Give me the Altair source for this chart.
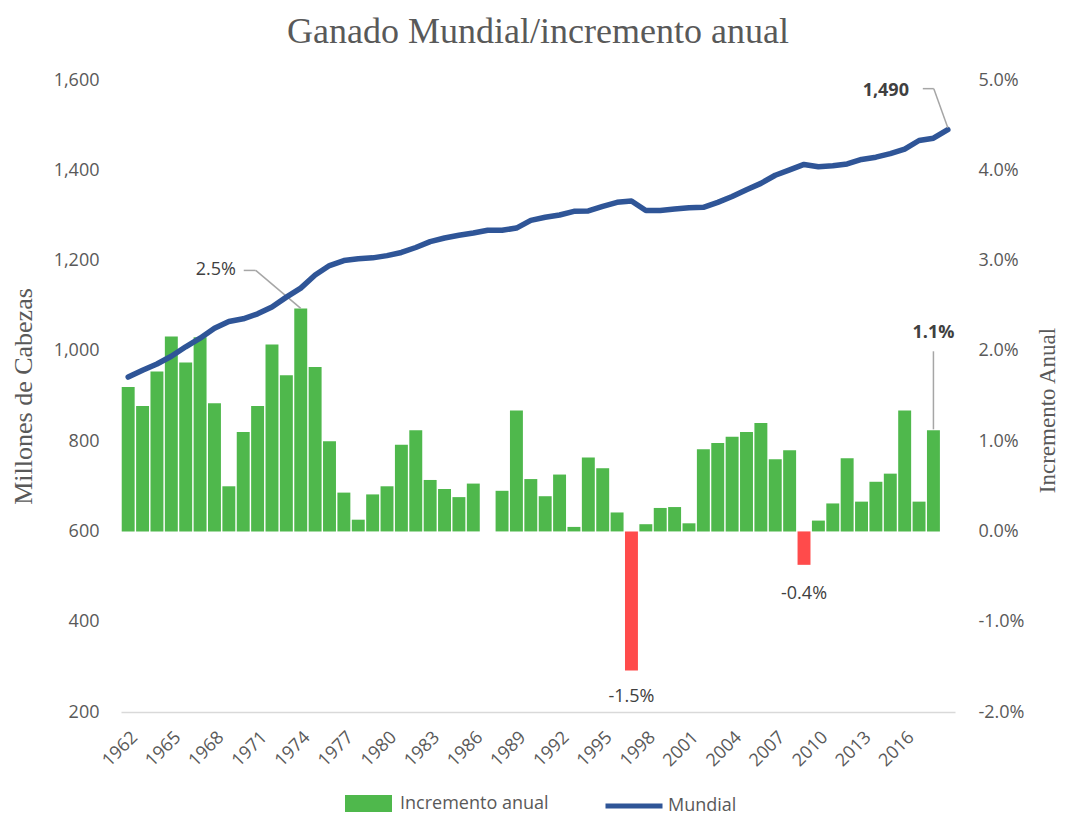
import altair as alt
import pandas as pd

# ---------------- data ----------------
years = list(range(1962, 2020))
mundial = [942, 957, 971, 988, 1009, 1028, 1050, 1065, 1071, 1082,
           1097, 1119, 1139, 1168, 1189, 1200, 1204, 1206, 1211, 1218,
           1229, 1242, 1250, 1256, 1261, 1267, 1267, 1272, 1289, 1296,
           1301, 1309, 1310, 1320, 1329, 1332, 1311, 1311, 1314, 1317,
           1318, 1329, 1342, 1357, 1371, 1389, 1401, 1413, 1408, 1410,
           1414, 1424, 1429, 1437, 1447, 1466, 1471, 1490]
# annual increment in percent (last year has no bar)
incremento = [1.60, 1.39, 1.77, 2.16, 1.87, 2.15, 1.42, 0.50, 1.10, 1.39,
              2.07, 1.73, 2.47, 1.82, 1.00, 0.43, 0.13, 0.41, 0.50, 0.96,
              1.12, 0.57, 0.47, 0.38, 0.53, 0.00, 0.45, 1.34, 0.58, 0.39,
              0.63, 0.05, 0.82, 0.70, 0.21, -1.54, 0.08, 0.26, 0.27, 0.09,
              0.91, 0.98, 1.05, 1.10, 1.20, 0.80, 0.90, -0.37, 0.12, 0.31,
              0.81, 0.33, 0.55, 0.64, 1.34, 0.33, 1.12, None]
tick_years = list(range(1962, 2017, 3))

df = pd.DataFrame({
    "year": years,
    "mundial": mundial,
    "inc": [None if v is None else v / 100 for v in incremento],
})

# ---------------- styles ----------------
GRAY = "#595959"
DARK = "#404040"
LEAD = "#A6A6A6"
GREEN = "#4FB84C"
RED = "#FF4B4B"
BLUE = "#2F5597"
SANS = "Open Sans"
SERIF = "Liberation Serif"

xscale = alt.Scale(domain=[1961.5, 2019.5], nice=False, zero=False)
xaxis = alt.Axis(values=tick_years, format="d", title=None, grid=False,
                 ticks=False, domainColor="#D9D9D9", domainWidth=1.5,
                 labelAngle=-45, labelAlign="right", labelBaseline="top",
                 labelPadding=16, labelFont=SANS, labelFontSize=18,
                 labelColor=GRAY, labelOverlap=False)

yl_scale = alt.Scale(domain=[200, 1600], nice=False, zero=False)
yl_axis = alt.Axis(orient="left", values=list(range(200, 1601, 200)),
                   labelExpr="format(datum.value, ',')",
                   grid=False, ticks=False, domain=False,
                   labelPadding=22, labelFont=SANS, labelFontSize=18,
                   labelColor=GRAY, title="Millones de Cabezas",
                   titleFont=SERIF, titleFontSize=26, titleFontWeight="normal",
                   titleColor=GRAY, titleAngle=-90, titleX=-98, titleY=316,
                   titleAlign="center", titleBaseline="middle")

yr_scale = alt.Scale(domain=[-0.02, 0.05], nice=False, zero=False)
yr_axis = alt.Axis(orient="right", values=[-0.02, -0.01, 0, 0.01, 0.02, 0.03, 0.04, 0.05],
                   labelExpr="replace(format(datum.value, '.1%'), '\u2212', '-')",
                   grid=False, ticks=False, domain=False,
                   labelPadding=23, labelFont=SANS, labelFontSize=18,
                   labelColor=GRAY, title="Incremento Anual",
                   titleFont=SERIF, titleFontSize=23, titleFontWeight="normal",
                   titleColor=GRAY, titleAngle=-90, titleX=92, titleY=330,
                   titleAlign="center", titleBaseline="middle")

base = alt.Chart(df)

# ---------------- bars (right axis) ----------------
bars = base.transform_filter("isValid(datum.inc)").transform_calculate(
    x0="datum.year - 0.45", x1="datum.year + 0.45", zero="0",
    serie="'Incremento anual'"
).mark_bar().encode(
    x=alt.X("x0:Q", scale=xscale, axis=xaxis),
    x2="x1:Q",
    y=alt.Y("inc:Q", scale=yr_scale, axis=yr_axis),
    y2="zero:Q",
    fill=alt.condition(
        "datum.inc < 0", alt.value(RED),
        alt.Fill("serie:N",
                 scale=alt.Scale(domain=["Incremento anual"], range=[GREEN]),
                 legend=alt.Legend(orient="none", legendX=224, legendY=700,
                                   title=None, padding=0,
                                   symbolType="M-1,-0.36H1V0.36H-1Z",
                                   symbolSize=2209, symbolStrokeWidth=0,
                                   symbolOpacity=1,
                                   labelFont=SANS, labelFontSize=18,
                                   labelColor=GRAY, labelOffset=8)),
    ),
)


def bar_text(year, dx, dy, bold=False):
    return base.transform_filter(f"datum.year == {year}").transform_calculate(
        lab="replace(format(datum.inc, '.1%'), '\u2212', '-')"
    ).mark_text(dx=dx, dy=dy, font=SANS, fontSize=18, color=DARK,
                fontWeight="bold" if bold else "normal").encode(
        x=alt.X("year:Q", scale=xscale, axis=xaxis),
        y=alt.Y("inc:Q", scale=yr_scale, axis=yr_axis),
        text="lab:N",
    )


def bar_rule(year, xo, yo, x2o, y2o):
    return base.transform_filter(f"datum.year == {year}").mark_rule(
        color=LEAD, strokeWidth=1.5, xOffset=xo, yOffset=yo,
        x2Offset=x2o, y2Offset=y2o).encode(
        x=alt.X("year:Q", scale=xscale, axis=xaxis),
        x2="year:Q",
        y=alt.Y("inc:Q", scale=yr_scale, axis=yr_axis),
        y2="inc:Q",
    )


right_group = alt.layer(
    bars,
    bar_rule(1974, 0, 0, -45, -38),
    bar_rule(1974, -45, -38, -57, -38),
    bar_rule(2018, 0, -1, 0, -79),
    bar_text(1974, -85, -38),
    bar_text(1997, 0, 27),
    bar_text(2009, 0, 29),
    bar_text(2018, 0, -97, bold=True),
)

# ---------------- line (left axis) ----------------
line = base.transform_calculate(serie2="'Mundial'").mark_line(
    strokeWidth=5.5, strokeCap="round", strokeJoin="round").encode(
    x=alt.X("year:Q", scale=xscale, axis=xaxis),
    y=alt.Y("mundial:Q", scale=yl_scale, axis=yl_axis),
    stroke=alt.Stroke("serie2:N",
                      scale=alt.Scale(domain=["Mundial"], range=[BLUE]),
                      legend=alt.Legend(orient="none", legendX=482, legendY=695,
                                        title=None, padding=0,
                                        symbolType="stroke", symbolSize=3249,
                                        symbolStrokeWidth=5,
                                        labelFont=SANS, labelFontSize=18,
                                        labelColor=GRAY, labelOffset=3)),
)


def line_rule(year, xo, yo, x2o, y2o):
    return base.transform_filter(f"datum.year == {year}").mark_rule(
        color=LEAD, strokeWidth=1.5, xOffset=xo, yOffset=yo,
        x2Offset=x2o, y2Offset=y2o).encode(
        x=alt.X("year:Q", scale=xscale, axis=xaxis),
        x2="year:Q",
        y=alt.Y("mundial:Q", scale=yl_scale, axis=yl_axis),
        y2="mundial:Q",
    )


line_text = base.transform_filter("datum.year == 2019").transform_calculate(
    lab="format(datum.mundial, ',')"
).mark_text(dx=-62, dy=-39, font=SANS, fontSize=18, color=DARK,
            fontWeight="bold").encode(
    x=alt.X("year:Q", scale=xscale, axis=xaxis),
    y=alt.Y("mundial:Q", scale=yl_scale, axis=yl_axis),
    text="lab:N",
)

left_group = alt.layer(
    line,
    line_rule(2019, 0, -2, -14, -41),
    line_rule(2019, -14, -41, -25, -41),
    line_text,
)

chart = alt.layer(right_group, left_group).resolve_scale(
    y="independent"
).properties(
    width=834,
    height=632,
    title=alt.Title("Ganado Mundial/incremento anual", font=SERIF,
                    fontSize=36, fontWeight="normal", color=GRAY,
                    anchor="middle", offset=20),
    autosize=alt.AutoSizeParams(type="none"),
    padding={"left": 113, "top": 72, "right": 104, "bottom": 104},
    background="white",
).configure_view(strokeWidth=0)

chart.save("out.html", embed_options={"renderer": "svg", "actions": False})
